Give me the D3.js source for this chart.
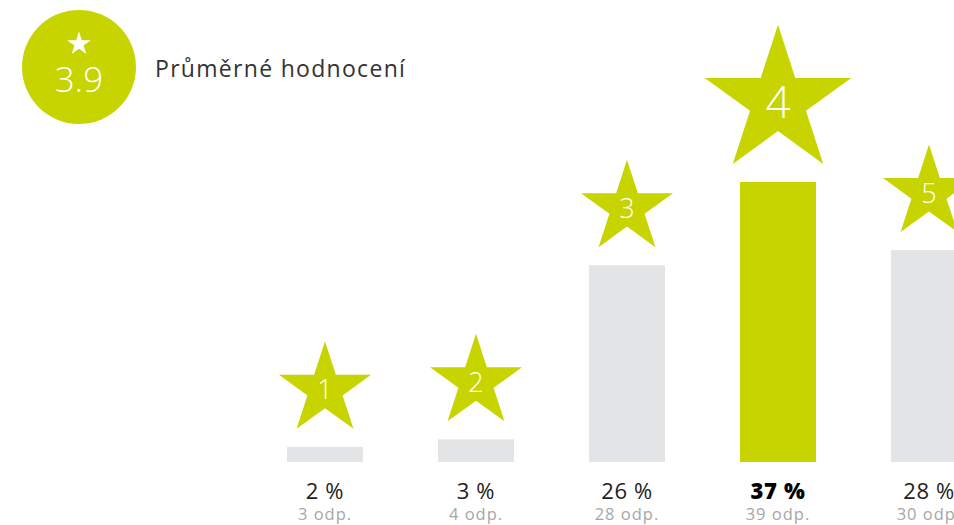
<!DOCTYPE html>
<html>
<head>
<meta charset="utf-8">
<script src="https://cdn.jsdelivr.net/npm/d3@7"></script>
<style>
  body { margin:0; background:#fff; }
  text { font-family: 'Open Sans', 'Noto Sans', sans-serif; }
</style>
</head>
<body>
<div id="canvas"></div>
<script>
// data
var ratings  = [1, 2, 3, 4, 5];
var percents = [2, 3, 26, 37, 28];
var answers  = [3, 4, 28, 39, 30];
var average  = '3.9';
var title    = 'Průměrné hodnocení';
var best = 4;

var W = 954, H = 525;
var green = '#c8d400', grey = '#e3e4e6';

var svg = d3.select('#canvas').append('svg')
    .attr('width', W).attr('height', H);

var x = d3.scalePoint().domain(ratings).range([325, 929]);
var y = d3.scaleLinear().domain([0, 37]).range([462, 182]);
var barW = 76;

// star path, R = outer radius
function star(R){
  var r = R * 0.382, pts = [];
  for (var i = 0; i < 10; i++){
    var a = -Math.PI/2 + i*Math.PI/5, rr = i % 2 ? r : R;
    pts.push([rr*Math.cos(a), rr*Math.sin(a)]);
  }
  return 'M' + pts.join('L') + 'Z';
}

// badge
var badge = svg.append('g').attr('transform','translate(79,67)');
badge.append('circle').attr('r',57).attr('fill',green);
badge.append('path').attr('d',star(12.5)).attr('transform','translate(0,-23)').attr('fill','#fff');
badge.append('text').attr('y',25).attr('text-anchor','middle')
    .attr('font-size',35).attr('font-weight',300).attr('fill','#fff').text(average);

svg.append('text').attr('x',155).attr('y',77)
    .attr('font-size',23).attr('font-weight',400).attr('letter-spacing',1.3)
    .attr('fill','#333').text(title);

var rows = ratings.map(function(d,i){
  return {r:d, p:percents[i], n:answers[i]};
});

var g = svg.selectAll('.bar').data(rows).enter().append('g').attr('class','bar');

g.append('rect')
    .attr('x', function(d){ return x(d.r) - barW/2; })
    .attr('y', function(d){ return y(d.p); })
    .attr('width', barW)
    .attr('height', function(d){ return y(0) - y(d.p); })
    .attr('fill', function(d){ return d.r == best ? green : grey; });

function R(d){ return d.r == best ? 77 : 48.4; }

var st = g.append('g')
    .attr('transform', function(d){
      return 'translate(' + x(d.r) + ',' + (y(d.p) - 18 - 0.809*R(d)) + ')';
    });
st.append('path').attr('d', function(d){ return star(R(d)); }).attr('fill', green);
st.append('text').attr('text-anchor','middle').attr('dy','0.36em')
    .attr('font-size', function(d){ return d.r == best ? 44 : 27; })
    .attr('font-weight',300).attr('fill','#fff')
    .text(function(d){ return d.r; });

g.append('text')
    .attr('x', function(d){ return x(d.r); }).attr('y', 499)
    .attr('text-anchor','middle').attr('font-size',22).attr('letter-spacing',0.6)
    .attr('font-weight', function(d){ return d.r == best ? 800 : 400; })
    .attr('fill', function(d){ return d.r == best ? '#000' : '#222'; })
    .text(function(d){ return d.p + ' %'; });

g.append('text')
    .attr('x', function(d){ return x(d.r); }).attr('y', 520)
    .attr('text-anchor','middle').attr('font-size',16.5).attr('letter-spacing',1)
    .attr('fill','#a6a6a6')
    .text(function(d){ return d.n + ' odp.'; });
</script>
</body>
</html>
